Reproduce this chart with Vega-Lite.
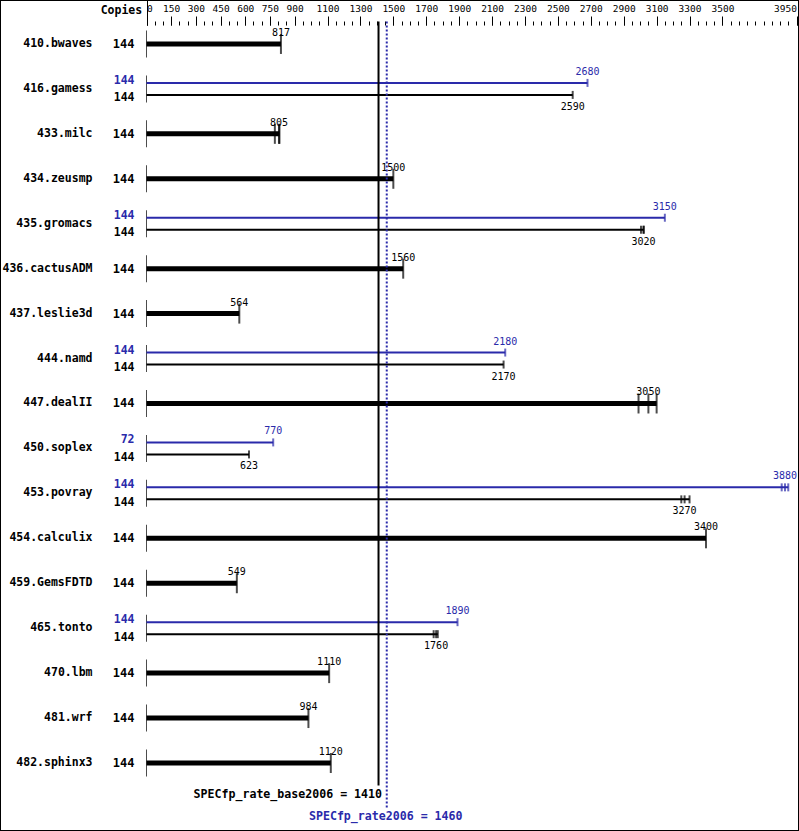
{
  "$schema": "https://vega.github.io/schema/vega-lite/v6.json",
  "width": 799,
  "height": 831,
  "autosize": {"type": "none"},
  "padding": 0,
  "background": "white",
  "config": {
    "view": {"stroke": "black", "strokeWidth": 2},
    "font": "DejaVu Sans Mono"
  },
  "datasets": {
    "benches": [
      {"bench": "410.bwaves"}, {"bench": "416.gamess"}, {"bench": "433.milc"}, {"bench": "434.zeusmp"},
      {"bench": "435.gromacs"}, {"bench": "436.cactusADM"}, {"bench": "437.leslie3d"}, {"bench": "444.namd"},
      {"bench": "447.dealII"}, {"bench": "450.soplex"}, {"bench": "453.povray"}, {"bench": "454.calculix"},
      {"bench": "459.GemsFDTD"}, {"bench": "465.tonto"}, {"bench": "470.lbm"}, {"bench": "481.wrf"},
      {"bench": "482.sphinx3"}
    ],
    "runs": [
      {"bench": "410.bwaves", "lane": "single", "copies": 144, "ratio": 817},
      {"bench": "416.gamess", "lane": "peak", "copies": 144, "ratio": 2680},
      {"bench": "416.gamess", "lane": "base", "copies": 144, "ratio": 2590},
      {"bench": "433.milc", "lane": "single", "copies": 144, "ratio": 780},
      {"bench": "433.milc", "lane": "single", "copies": 144, "ratio": 805},
      {"bench": "433.milc", "lane": "single", "copies": 144, "ratio": 808},
      {"bench": "434.zeusmp", "lane": "single", "copies": 144, "ratio": 1500},
      {"bench": "435.gromacs", "lane": "peak", "copies": 144, "ratio": 3150},
      {"bench": "435.gromacs", "lane": "base", "copies": 144, "ratio": 3005},
      {"bench": "435.gromacs", "lane": "base", "copies": 144, "ratio": 3020},
      {"bench": "435.gromacs", "lane": "base", "copies": 144, "ratio": 3022},
      {"bench": "436.cactusADM", "lane": "single", "copies": 144, "ratio": 1560},
      {"bench": "437.leslie3d", "lane": "single", "copies": 144, "ratio": 564},
      {"bench": "444.namd", "lane": "peak", "copies": 144, "ratio": 2180},
      {"bench": "444.namd", "lane": "base", "copies": 144, "ratio": 2170},
      {"bench": "447.dealII", "lane": "single", "copies": 144, "ratio": 2990},
      {"bench": "447.dealII", "lane": "single", "copies": 144, "ratio": 3050},
      {"bench": "447.dealII", "lane": "single", "copies": 144, "ratio": 3100},
      {"bench": "450.soplex", "lane": "peak", "copies": 72, "ratio": 770},
      {"bench": "450.soplex", "lane": "base", "copies": 144, "ratio": 623},
      {"bench": "453.povray", "lane": "peak", "copies": 144, "ratio": 3860},
      {"bench": "453.povray", "lane": "peak", "copies": 144, "ratio": 3880},
      {"bench": "453.povray", "lane": "peak", "copies": 144, "ratio": 3900},
      {"bench": "453.povray", "lane": "base", "copies": 144, "ratio": 3250},
      {"bench": "453.povray", "lane": "base", "copies": 144, "ratio": 3270},
      {"bench": "453.povray", "lane": "base", "copies": 144, "ratio": 3300},
      {"bench": "454.calculix", "lane": "single", "copies": 144, "ratio": 3400},
      {"bench": "459.GemsFDTD", "lane": "single", "copies": 144, "ratio": 549},
      {"bench": "465.tonto", "lane": "peak", "copies": 144, "ratio": 1890},
      {"bench": "465.tonto", "lane": "base", "copies": 144, "ratio": 1745},
      {"bench": "465.tonto", "lane": "base", "copies": 144, "ratio": 1760},
      {"bench": "465.tonto", "lane": "base", "copies": 144, "ratio": 1770},
      {"bench": "470.lbm", "lane": "single", "copies": 144, "ratio": 1110},
      {"bench": "481.wrf", "lane": "single", "copies": 144, "ratio": 984},
      {"bench": "482.sphinx3", "lane": "single", "copies": 144, "ratio": 1120}
    ],
    "summary": [
      {"metric": "SPECfp_rate_base2006", "lane": "base", "score": 1410, "label": "SPECfp_rate_base2006 = 1410"},
      {"metric": "SPECfp_rate2006", "lane": "peak", "score": 1460, "label": "SPECfp_rate2006 = 1460"}
    ]
  },
  "resolve": {"axis": {"x": "independent", "y": "independent"}},
  "layer": [
    {
      "data": {"name": "benches"},
      "mark": {"type": "tick", "orient": "vertical", "thickness": 1, "size": 27, "color": "black"},
      "encoding": {
        "x": {"datum": 0, "type": "quantitative", "scale": {"domain": [0, 3950], "range": [146.5, 796.5], "zero": false, "nice": false},
          "axis": {"orient": "top", "offset": -25, "values": [0], "tickSize": 25, "tickColor": "black", "tickWidth": 1, "labels": false, "domain": false, "grid": false, "title": null}},
        "y": {"field": "bench", "type": "nominal",
          "scale": {"type": "band", "range": [21.5, 830.4], "paddingInner": 0, "paddingOuter": 0,
            "domain": ["410.bwaves", "416.gamess", "433.milc", "434.zeusmp", "435.gromacs", "436.cactusADM", "437.leslie3d", "444.namd", "447.dealII", "450.soplex", "453.povray", "454.calculix", "459.GemsFDTD", "465.tonto", "470.lbm", "481.wrf", "482.sphinx3", "summary"]},
          "axis": null}
      }
    },
    {
      "data": {"name": "benches"},
      "mark": {"type": "text", "align": "right", "baseline": "middle", "dx": -54, "fontSize": 11.5, "fontWeight": "bold", "color": "black"},
      "encoding": {
        "x": {"datum": 0, "type": "quantitative", "axis": null},
        "y": {"field": "bench", "type": "nominal", "axis": null},
        "text": {"field": "bench"}
      }
    },
    {
      "data": {"name": "runs"},
      "mark": {"type": "rule", "strokeCap": "butt"},
      "encoding": {
        "x": {"aggregate": "max", "field": "ratio", "type": "quantitative",
          "axis": {"orient": "top", "offset": -25, "title": "Copies", "titleX": 141.7, "titleY": -12, "titleAlign": "right", "titleBaseline": "alphabetic", "titleFontSize": 11.5, "titleFontWeight": "bold", "titleColor": "black", "titleAnchor": null,
            "values": [0, 150, 300, 450, 600, 750, 900, 1100, 1300, 1500, 1700, 1900, 2100, 2300, 2500, 2700, 2900, 3100, 3300, 3500, 3950],
            "tickSize": 9, "tickColor": "black", "tickWidth": 1, "domain": false, "grid": false, "labelFontSize": 9.5, "labelColor": "black", "labelPadding": 5, "labelBaseline": "alphabetic", "labelFlush": true, "labelOverlap": false, "labelFont": "DejaVu Sans Mono", "format": "d"}},
        "x2": {"datum": 0},
        "y": {"field": "bench", "type": "nominal", "axis": null},
        "yOffset": {"field": "lane", "type": "nominal", "scale": {"type": "point", "domain": ["peak", "single", "base"], "range": [16.47, 28.47], "padding": 0}},
        "color": {"field": "lane", "type": "nominal", "scale": {"domain": ["peak", "single", "base"], "range": ["#2a2aaa", "black", "black"]}, "legend": null},
        "strokeWidth": {"field": "lane", "type": "nominal", "scale": {"type": "ordinal", "domain": ["peak", "single", "base"], "range": [2, 5, 2]}, "legend": null}
      }
    },
    {
      "data": {"name": "runs"},
      "mark": {"type": "tick", "orient": "vertical", "thickness": 2},
      "encoding": {
        "x": {"field": "ratio", "type": "quantitative",
          "axis": {"orient": "top", "offset": -25, "title": null, "labels": false, "domain": false, "grid": false, "tickSize": 4, "tickColor": "black", "tickWidth": 1,
            "values": [0, 50, 100, 150, 200, 250, 300, 350, 400, 450, 500, 550, 600, 650, 700, 750, 800, 850, 900, 950, 1000, 1050, 1100, 1150, 1200, 1250, 1300, 1350, 1400, 1450, 1500, 1550, 1600, 1650, 1700, 1750, 1800, 1850, 1900, 1950, 2000, 2050, 2100, 2150, 2200, 2250, 2300, 2350, 2400, 2450, 2500, 2550, 2600, 2650, 2700, 2750, 2800, 2850, 2900, 2950, 3000, 3050, 3100, 3150, 3200, 3250, 3300, 3350, 3400, 3450, 3500, 3550, 3600, 3650, 3700, 3750, 3800, 3850, 3900, 3950]}},
        "y": {"field": "bench", "type": "nominal", "axis": null},
        "yOffset": {"field": "lane", "type": "nominal"},
        "color": {"field": "lane", "type": "nominal", "legend": null},
        "size": {"field": "lane", "type": "nominal", "scale": {"type": "ordinal", "domain": ["peak", "single", "base"], "range": [8, 20, 8]}, "legend": null}
      }
    },
    {
      "data": {"name": "runs"},
      "transform": [{"filter": "datum.lane === 'peak'"}],
      "mark": {"type": "text", "align": "right", "baseline": "middle", "dx": -12, "dy": -2, "fontSize": 11.5, "fontWeight": "bold"},
      "encoding": {
        "x": {"datum": 0, "type": "quantitative", "axis": null},
        "y": {"field": "bench", "type": "nominal", "axis": null},
        "yOffset": {"field": "lane", "type": "nominal"},
        "color": {"field": "lane", "type": "nominal", "legend": null},
        "text": {"aggregate": "min", "field": "copies", "type": "quantitative", "format": "d"}
      }
    },
    {
      "data": {"name": "runs"},
      "transform": [{"filter": "datum.lane === 'single'"}],
      "mark": {"type": "text", "align": "right", "baseline": "middle", "dx": -12, "fontSize": 12, "fontWeight": "bold"},
      "encoding": {
        "x": {"datum": 0, "type": "quantitative", "axis": null},
        "y": {"field": "bench", "type": "nominal", "axis": null},
        "yOffset": {"field": "lane", "type": "nominal"},
        "color": {"field": "lane", "type": "nominal", "legend": null},
        "text": {"aggregate": "min", "field": "copies", "type": "quantitative", "format": "d"}
      }
    },
    {
      "data": {"name": "runs"},
      "transform": [{"filter": "datum.lane === 'base'"}],
      "mark": {"type": "text", "align": "right", "baseline": "middle", "dx": -12, "dy": 3.5, "fontSize": 11.5, "fontWeight": "bold"},
      "encoding": {
        "x": {"datum": 0, "type": "quantitative", "axis": null},
        "y": {"field": "bench", "type": "nominal", "axis": null},
        "yOffset": {"field": "lane", "type": "nominal"},
        "color": {"field": "lane", "type": "nominal", "legend": null},
        "text": {"aggregate": "min", "field": "copies", "type": "quantitative", "format": "d"}
      }
    },
    {
      "data": {"name": "runs"},
      "transform": [{"filter": "datum.lane !== 'base'"}],
      "mark": {"type": "text", "align": "center", "baseline": "middle", "dy": -11, "fontSize": 10},
      "encoding": {
        "x": {"aggregate": "median", "field": "ratio", "type": "quantitative", "axis": null},
        "y": {"field": "bench", "type": "nominal", "axis": null},
        "yOffset": {"field": "lane", "type": "nominal"},
        "color": {"field": "lane", "type": "nominal", "legend": null},
        "text": {"aggregate": "median", "field": "ratio", "type": "quantitative", "format": "d"}
      }
    },
    {
      "data": {"name": "runs"},
      "transform": [{"filter": "datum.lane === 'base'"}],
      "mark": {"type": "text", "align": "center", "baseline": "middle", "dy": 12, "fontSize": 10},
      "encoding": {
        "x": {"aggregate": "median", "field": "ratio", "type": "quantitative", "axis": null},
        "y": {"field": "bench", "type": "nominal", "axis": null},
        "yOffset": {"field": "lane", "type": "nominal"},
        "color": {"field": "lane", "type": "nominal", "legend": null},
        "text": {"aggregate": "median", "field": "ratio", "type": "quantitative", "format": "d"}
      }
    },
    {
      "data": {"name": "summary"},
      "transform": [{"filter": "datum.lane === 'base'"}],
      "mark": {"type": "rule", "strokeWidth": 2, "color": "black"},
      "encoding": {
        "x": {"field": "score", "type": "quantitative", "axis": null},
        "y": {"datum": "410.bwaves", "type": "nominal", "bandPosition": 0, "axis": null},
        "y2": {"datum": "summary", "bandPosition": 0}
      }
    },
    {
      "data": {"name": "summary"},
      "transform": [{"filter": "datum.lane === 'peak'"}],
      "mark": {"type": "rule", "strokeWidth": 2, "color": "#2a2aaa", "strokeDash": [2, 2]},
      "encoding": {
        "x": {"field": "score", "type": "quantitative", "axis": null},
        "y": {"datum": "410.bwaves", "type": "nominal", "bandPosition": 0, "axis": null},
        "y2": {"datum": "summary", "bandPosition": 0.5}
      }
    },
    {
      "data": {"name": "summary"},
      "transform": [{"filter": "datum.lane === 'base'"}],
      "mark": {"type": "text", "align": "right", "baseline": "middle", "dx": 3.5, "dy": -13, "fontSize": 11.6, "fontWeight": "bold", "color": "black"},
      "encoding": {
        "x": {"field": "score", "type": "quantitative", "axis": null},
        "y": {"datum": "summary", "type": "nominal", "axis": null},
        "text": {"field": "label"}
      }
    },
    {
      "data": {"name": "summary"},
      "transform": [{"filter": "datum.lane === 'peak'"}],
      "mark": {"type": "text", "align": "center", "baseline": "middle", "dx": -1, "dy": 9, "fontSize": 11.6, "fontWeight": "bold", "color": "#2a2aaa"},
      "encoding": {
        "x": {"field": "score", "type": "quantitative", "axis": null},
        "y": {"datum": "summary", "type": "nominal", "axis": null},
        "text": {"field": "label"}
      }
    }
  ]
}
